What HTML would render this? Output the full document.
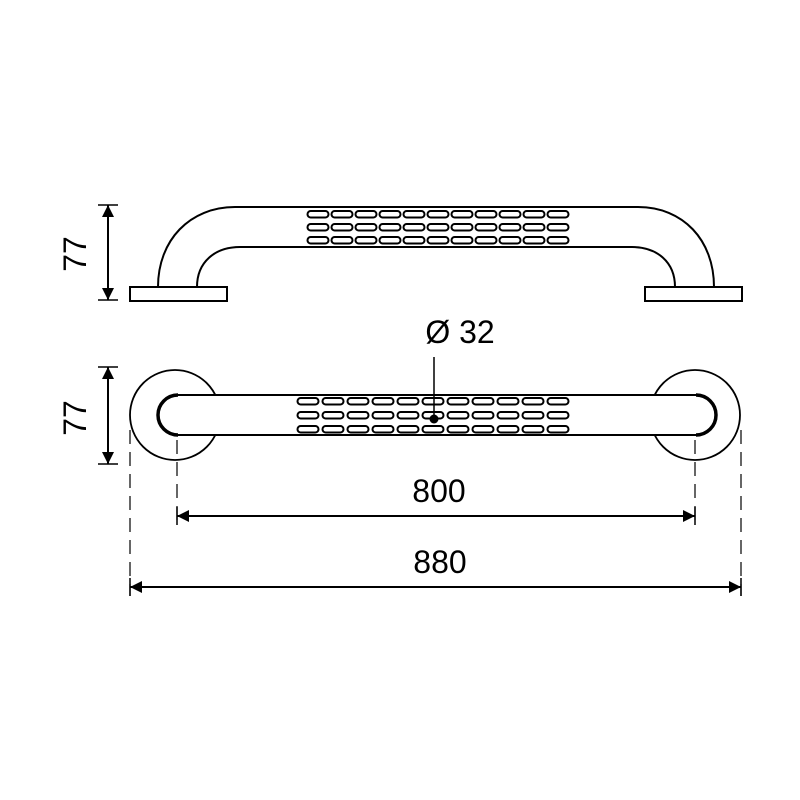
<!DOCTYPE html>
<html><head><style>body{margin:0;background:#fff}svg{display:block}</style></head><body>
<svg width="800" height="800" viewBox="0 0 800 800" xmlns="http://www.w3.org/2000/svg">
<defs>
<marker id="a" viewBox="0 0 12 12" refX="12" refY="6" markerWidth="12" markerHeight="13" markerUnits="userSpaceOnUse" orient="auto-start-reverse"><path d="M0,0 L12,6 L0,12 z" fill="#000"/></marker>
<g id="ov"><rect x="-10.5" y="-3" width="21" height="6.5" rx="3.2" fill="#fff" stroke="#000" stroke-width="2"/></g>
</defs>
<g fill="none" stroke="#000" stroke-width="2">
<rect x="130" y="287" width="97" height="14" fill="#fff"/>
<rect x="645" y="287" width="97" height="14" fill="#fff"/>
<path d="M158,287 C158,240 190,207 235,207 L638,207 C683,207 714,240 714,287"/>
<path d="M197,287 C197,262 215,247 240,247 L632,247 C657,247 675,262 675,287"/>
<circle cx="175" cy="415" r="45" fill="#fff" stroke-width="1.8"/>
<circle cx="695" cy="415" r="45" fill="#fff" stroke-width="1.8"/>
<path d="M178,395 L696,395 A20,20 0 0 1 696,435 L178,435 A20,20 0 0 1 178,395 Z" fill="#fff"/>
<path d="M178,395 A20,20 0 0 0 178,435" stroke-width="3.5"/>
<path d="M696,395 A20,20 0 0 1 696,435" stroke-width="3.5"/>
<line x1="108" y1="205" x2="108" y2="300" marker-start="url(#a)" marker-end="url(#a)"/>
<line x1="98" y1="205" x2="118" y2="205" stroke-width="1.5"/>
<line x1="98" y1="300" x2="118" y2="300" stroke-width="1.5"/>
<line x1="108" y1="367" x2="108" y2="464" marker-start="url(#a)" marker-end="url(#a)"/>
<line x1="98" y1="367" x2="118" y2="367" stroke-width="1.5"/>
<line x1="98" y1="464" x2="118" y2="464" stroke-width="1.5"/>
<g stroke-width="1.2" stroke-dasharray="14,8">
<line x1="130" y1="430" x2="130" y2="596"/>
<line x1="741" y1="430" x2="741" y2="596"/>
<line x1="177" y1="440" x2="177" y2="525"/>
<line x1="695" y1="440" x2="695" y2="525"/>
</g>
<line x1="177" y1="516" x2="695" y2="516" marker-start="url(#a)" marker-end="url(#a)"/>
<line x1="130" y1="587" x2="741" y2="587" marker-start="url(#a)" marker-end="url(#a)"/>
<line x1="177" y1="507" x2="177" y2="525" stroke-width="1.5"/>
<line x1="695" y1="507" x2="695" y2="525" stroke-width="1.5"/>
<line x1="130" y1="578" x2="130" y2="596" stroke-width="1.5"/>
<line x1="741" y1="578" x2="741" y2="596" stroke-width="1.5"/>
</g>
<g>
<use href="#ov" x="318" y="214"/><use href="#ov" x="342" y="214"/><use href="#ov" x="366" y="214"/><use href="#ov" x="390" y="214"/><use href="#ov" x="414" y="214"/><use href="#ov" x="438" y="214"/><use href="#ov" x="462" y="214"/><use href="#ov" x="486" y="214"/><use href="#ov" x="510" y="214"/><use href="#ov" x="534" y="214"/><use href="#ov" x="558" y="214"/>
<use href="#ov" x="318" y="227"/><use href="#ov" x="342" y="227"/><use href="#ov" x="366" y="227"/><use href="#ov" x="390" y="227"/><use href="#ov" x="414" y="227"/><use href="#ov" x="438" y="227"/><use href="#ov" x="462" y="227"/><use href="#ov" x="486" y="227"/><use href="#ov" x="510" y="227"/><use href="#ov" x="534" y="227"/><use href="#ov" x="558" y="227"/>
<use href="#ov" x="318" y="240"/><use href="#ov" x="342" y="240"/><use href="#ov" x="366" y="240"/><use href="#ov" x="390" y="240"/><use href="#ov" x="414" y="240"/><use href="#ov" x="438" y="240"/><use href="#ov" x="462" y="240"/><use href="#ov" x="486" y="240"/><use href="#ov" x="510" y="240"/><use href="#ov" x="534" y="240"/><use href="#ov" x="558" y="240"/>
</g>
<g>
<use href="#ov" x="308" y="401"/><use href="#ov" x="333" y="401"/><use href="#ov" x="358" y="401"/><use href="#ov" x="383" y="401"/><use href="#ov" x="408" y="401"/><use href="#ov" x="433" y="401"/><use href="#ov" x="458" y="401"/><use href="#ov" x="483" y="401"/><use href="#ov" x="508" y="401"/><use href="#ov" x="533" y="401"/><use href="#ov" x="558" y="401"/>
<use href="#ov" x="308" y="415"/><use href="#ov" x="333" y="415"/><use href="#ov" x="358" y="415"/><use href="#ov" x="383" y="415"/><use href="#ov" x="408" y="415"/><use href="#ov" x="433" y="415"/><use href="#ov" x="458" y="415"/><use href="#ov" x="483" y="415"/><use href="#ov" x="508" y="415"/><use href="#ov" x="533" y="415"/><use href="#ov" x="558" y="415"/>
<use href="#ov" x="308" y="429"/><use href="#ov" x="333" y="429"/><use href="#ov" x="358" y="429"/><use href="#ov" x="383" y="429"/><use href="#ov" x="408" y="429"/><use href="#ov" x="433" y="429"/><use href="#ov" x="458" y="429"/><use href="#ov" x="483" y="429"/><use href="#ov" x="508" y="429"/><use href="#ov" x="533" y="429"/><use href="#ov" x="558" y="429"/>
</g>
<line x1="434" y1="357" x2="434" y2="418" stroke="#000" stroke-width="1.5"/>
<circle cx="434" cy="419" r="4.5" fill="#000"/>
<g font-family="Liberation Sans, sans-serif" font-size="32" fill="#000" text-anchor="middle">
<text x="460" y="343">Ø 32</text>
<text x="439" y="502">800</text>
<text x="440" y="573">880</text>
<text transform="translate(86,254) rotate(-90)">77</text>
<text transform="translate(86,418) rotate(-90)">77</text>
</g>
</svg>
</body></html>
